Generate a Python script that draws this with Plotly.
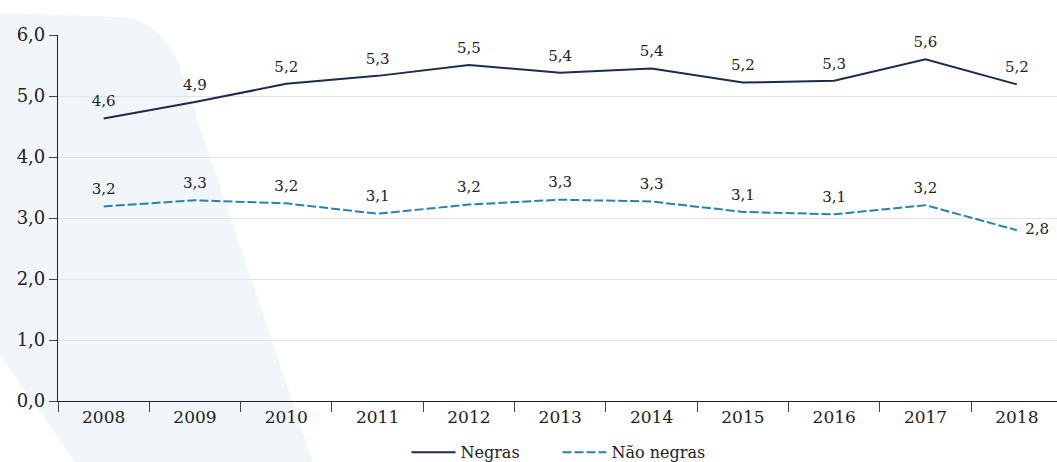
import plotly.graph_objects as go

years = ["2008", "2009", "2010", "2011", "2012", "2013", "2014", "2015", "2016", "2017", "2018"]
negras = [4.63, 4.90, 5.20, 5.33, 5.51, 5.38, 5.45, 5.22, 5.25, 5.60, 5.19]
negras_labels = ["4,6", "4,9", "5,2", "5,3", "5,5", "5,4", "5,4", "5,2", "5,3", "5,6", "5,2"]
nao_negras = [3.19, 3.29, 3.24, 3.07, 3.22, 3.30, 3.27, 3.10, 3.06, 3.21, 2.80]
nao_negras_labels = ["3,2", "3,3", "3,2", "3,1", "3,2", "3,3", "3,3", "3,1", "3,1", "3,2", "2,8"]
y_ticks = [0, 1, 2, 3, 4, 5, 6]

FONT = "DejaVu Serif"
NAVY = "#1d2c47"
TEAL = "#2b80ad"

W, H = 1057, 462
ML, MR, MT, MB = 58, 0, 35, 61
pw, ph = W - ML - MR, H - MT - MB

def px(x):
    return (x - ML) / pw

def py(y):
    return (H - MB - y) / ph

fig = go.Figure()

fig.add_trace(go.Scatter(
    x=years, y=negras, name="Negras",
    mode="lines+markers+text",
    line=dict(color=NAVY, width=2),
    marker=dict(size=12, color="rgba(0,0,0,0)"),
    text=negras_labels, textposition="top center",
    textfont=dict(family=FONT, size=15, color="#222"),
    cliponaxis=False,
))

nn_pos = ["top center"] * (len(years) - 1) + ["middle right"]
fig.add_trace(go.Scatter(
    x=years, y=nao_negras, name="Não negras",
    mode="lines+markers+text",
    line=dict(color=TEAL, width=2, dash="9px,3px"),
    marker=dict(size=12, color="rgba(0,0,0,0)"),
    text=nao_negras_labels, textposition=nn_pos,
    textfont=dict(family=FONT, size=15, color="#222"),
    cliponaxis=False,
))

# decorative light-blue background band
path = (
    f"M {px(0)},{py(13)} L {px(120)},{py(17)} "
    f"Q {px(162)},{py(22)} {px(178)},{py(62)} "
    f"L {px(313)},{py(462)} L {px(75)},{py(462)} L {px(0)},{py(355)} Z"
)
fig.add_shape(type="path", path=path, xref="paper", yref="paper",
              fillcolor="#f1f6fa", line=dict(width=0), layer="below")

fig.update_layout(
    width=W, height=H,
    margin=dict(l=ML, r=MR, t=MT, b=MB, autoexpand=False),
    paper_bgcolor="white",
    plot_bgcolor="rgba(0,0,0,0)",
    separators=",.",
    font=dict(family=FONT, size=16, color="#222"),
    showlegend=True,
    legend=dict(orientation="h", x=0.5, xanchor="center", y=-0.14, yanchor="middle",
                font=dict(family=FONT, size=16, color="#222"),
                bgcolor="rgba(0,0,0,0)", itemwidth=44, entrywidth=92),
)

fig.update_xaxes(
    type="category", range=[-0.5, 10.44],
    showgrid=False, showline=True, linecolor="#222", linewidth=1.2,
    ticks="outside", tickson="boundaries", ticklen=10, tickcolor="#444",
    tickfont=dict(family=FONT, size=17, color="#222"),
    zeroline=False,
)
fig.update_yaxes(
    range=[0, 6], tickvals=y_ticks, tickformat=".1f",
    showgrid=True, gridcolor="#e4e4e4", gridwidth=1,
    showline=True, linecolor="#222", linewidth=1.2,
    ticks="outside", ticklen=8, tickcolor="#444",
    tickfont=dict(family=FONT, size=18, color="#222"),
    zeroline=False,
)

fig.write_html("out.html")
